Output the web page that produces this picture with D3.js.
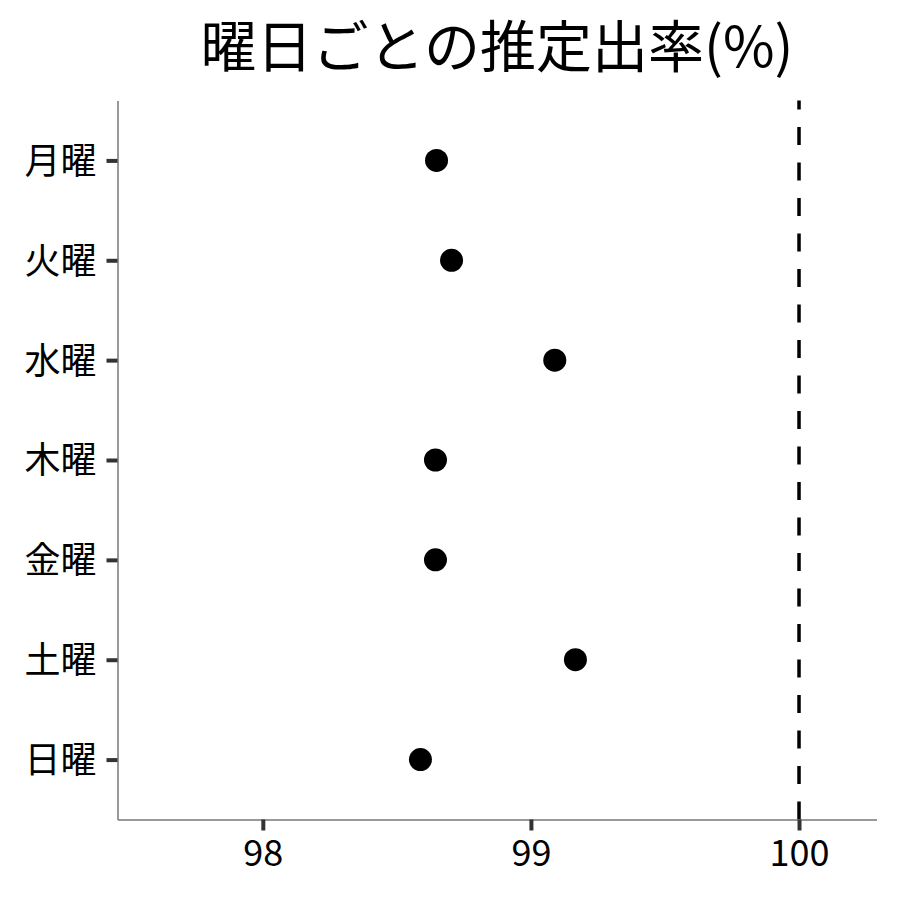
<!DOCTYPE html>
<html>
<head>
<meta charset="utf-8">
<script src="https://cdn.jsdelivr.net/npm/d3@7"></script>
<style>
  html, body { margin: 0; padding: 0; background: #fff; }
  text { font-family: "Noto Sans CJK JP", "Noto Sans", sans-serif; }
</style>
</head>
<body>
<div id="chart"></div>
<script>
// Data
const days = ["月曜", "火曜", "水曜", "木曜", "金曜", "土曜", "日曜"];
const rates = [98.648, 98.704, 99.089, 98.644, 98.644, 99.166, 98.588];
const xTicks = [98, 99, 100];
const refLine = 100;
const title = "曜日ごとの推定出率(%)";

const W = 900, H = 900;
const M = { top: 100.5, right: 23.5, bottom: 80.5, left: 117.5 };
const innerW = W - M.left - M.right;
const innerH = H - M.top - M.bottom;

const root = d3.select("#chart");
const svg = root.append("svg")
  .attr("width", W)
  .attr("height", H)
  .attr("viewBox", `0 0 ${W} ${H}`);

const g = svg.append("g")
  .attr("transform", `translate(${M.left}, ${M.top})`);

const x = d3.scaleLinear()
  .domain([97.458, 100.289])
  .range([0, innerW]);

const y = d3.scalePoint()
  .domain(days)
  .range([0, innerH])
  .padding(0.6);

// Reference line (drawn bottom to top so the dash pattern starts at the axis)
g.append("line")
  .attr("x1", x(refLine)).attr("x2", x(refLine))
  .attr("y1", innerH).attr("y2", 0)
  .attr("stroke", "#000")
  .attr("stroke-width", 3.5)
  .attr("stroke-dasharray", "18,17.5");

// Points
g.selectAll("circle.pt")
  .data(days.map((d, i) => ({ day: d, v: rates[i] })))
  .join("circle")
  .attr("class", "pt")
  .attr("cx", d => x(d.v))
  .attr("cy", d => y(d.day))
  .attr("r", 11.5)
  .attr("fill", "#000");

// Axes
const xAxis = d3.axisBottom(x)
  .tickValues(xTicks)
  .tickFormat(d3.format("d"))
  .tickSize(11)
  .tickPadding(8)
  .tickSizeOuter(0);

const yAxis = d3.axisLeft(y)
  .tickSize(11)
  .tickPadding(10)
  .tickSizeOuter(0);

const gx = g.append("g")
  .attr("transform", `translate(0, ${innerH})`)
  .call(xAxis);

const gy = g.append("g")
  .call(yAxis);

[gx, gy].forEach(a => {
  a.select(".domain")
    .attr("stroke", "#777")
    .attr("stroke-width", 1.5);
  a.selectAll(".tick line")
    .attr("stroke", "#333")
    .attr("stroke-width", 4);
  a.selectAll(".tick text")
    .attr("fill", "#000")
    .style("font-size", "36px");
});

gx.selectAll(".tick text").attr("dy", "0.75em");
gy.selectAll(".tick text").attr("dy", "0.36em");

// Title
svg.append("text")
  .attr("x", M.left + innerW / 2)
  .attr("y", 67)
  .attr("text-anchor", "middle")
  .attr("fill", "#000")
  .style("font-size", "56px")
  .text(title);
</script>
</body>
</html>
